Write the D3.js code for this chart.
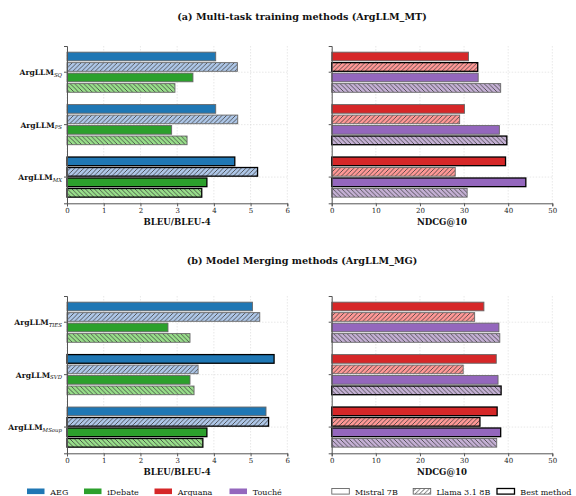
<!DOCTYPE html>
<html>
<head>
<meta charset="utf-8">
<script src="https://cdn.jsdelivr.net/npm/d3@7"></script>
<style>
  html, body { margin: 0; padding: 0; background: #fff; }
  svg { display: block; font-family: "DejaVu Serif", serif; }
</style>
</head>
<body>
<svg id="chart" width="576" height="496"></svg>
<script>
// ---- data -------------------------------------------------------------
const mtMethods = ["SQ", "PS", "MX"];
const mgMethods = ["TIES", "SVD", "MSoup"];

// BLEU / BLEU-4 (generation tasks)
const aegMistralMT      = [4.05, 4.05, 4.57];
const aegLlamaMT        = [4.64, 4.65, 5.19];
const idebateMistralMT  = [3.43, 2.85, 3.81];
const idebateLlamaMT    = [2.94, 3.27, 3.67];
const aegMistralMG      = [5.05, 5.64, 5.42];
const aegLlamaMG        = [5.25, 3.57, 5.49];
const idebateMistralMG  = [2.75, 3.35, 3.81];
const idebateLlamaMG    = [3.35, 3.46, 3.70];

// NDCG@10 (retrieval tasks)
const arguanaMistralMT  = [31.0, 30.1, 39.4];
const arguanaLlamaMT    = [33.1, 29.0, 28.0];
const toucheMistralMT   = [33.2, 38.0, 44.0];
const toucheLlamaMT     = [38.3, 39.7, 30.7];
const arguanaMistralMG  = [34.5, 37.3, 37.5];
const arguanaLlamaMG    = [32.4, 29.8, 33.6];
const toucheMistralMG   = [37.9, 37.7, 38.3];
const toucheLlamaMG     = [38.1, 38.4, 37.4];

const bleuTicks = [0, 1, 2, 3, 4, 5, 6];
const ndcgTicks = [0, 10, 20, 30, 40, 50];

const datasets = ["AEG", "iDebate", "Arguana", "Touché"];
const models = ["Mistral 7B", "Llama 3.1 8B", "Best method"];

// ---- styles -----------------------------------------------------------
const colors = {
  AEG:     { solid: "#1f77b4", light: "#aec7e8", hatch: "fwd" },
  iDebate: { solid: "#2ca02c", light: "#98df8a", hatch: "back" },
  Arguana: { solid: "#d62728", light: "#ff9896", hatch: "fwd" },
  "Touché":{ solid: "#9467bd", light: "#c5b0d5", hatch: "back" }
};

const svg = d3.select("#chart");
const defs = svg.append("defs");

function makeHatch(id, bg, dir) {
  const s = 4.5;
  const p = defs.append("pattern")
    .attr("id", id)
    .attr("patternUnits", "userSpaceOnUse")
    .attr("width", s).attr("height", s);
  p.append("rect").attr("width", s).attr("height", s).attr("fill", bg);
  const d = dir === "fwd"
    ? `M-1,1 L1,-1 M0,${s} L${s},0 M${s - 1},${s + 1} L${s + 1},${s - 1}`
    : `M-1,${s - 1} L1,${s + 1} M0,0 L${s},${s} M${s - 1},-1 L${s + 1},1`;
  p.append("path").attr("d", d)
    .attr("stroke", "#3a3a3a").attr("stroke-width", 0.8);
}
Object.entries(colors).forEach(([k, c], i) => makeHatch("h" + i, c.light, c.hatch));
makeHatch("hLegend", "#fff", "fwd");
const hatchId = name => "url(#h" + Object.keys(colors).indexOf(name) + ")";

// ---- panel drawing ----------------------------------------------------
function drawPanel(opt) {
  const g = svg.append("g");
  const x = d3.scaleLinear().domain(opt.xDomain).range(opt.xRange);
  const y = d3.scaleBand().domain(opt.categories).range(opt.yRange);
  const bw = y.bandwidth();
  const pitch = bw * 0.2;
  const barH = bw * 0.165;

  // grid
  g.append("g").selectAll("line.vx").data(opt.ticks).join("line")
    .attr("x1", d => x(d)).attr("x2", d => x(d))
    .attr("y1", opt.yRange[0]).attr("y2", opt.yRange[1])
    .attr("stroke", "#d8d8d8").attr("stroke-width", 0.6)
    .attr("stroke-dasharray", "1.5,1.5");
  g.append("g").selectAll("line.hy").data(opt.categories).join("line")
    .attr("x1", opt.xRange[0]).attr("x2", opt.xRange[1])
    .attr("y1", d => y(d) + bw / 2).attr("y2", d => y(d) + bw / 2)
    .attr("stroke", "#d8d8d8").attr("stroke-width", 0.6)
    .attr("stroke-dasharray", "1.5,1.5");

  // bars
  opt.series.forEach((s, si) => {
    const best = d3.max(s.values);
    g.append("g").selectAll("rect").data(s.values).join("rect")
      .attr("x", x(0))
      .attr("y", (d, i) => y(opt.categories[i]) + bw / 2 + (si - 1.5) * pitch - barH / 2)
      .attr("width", d => x(d) - x(0))
      .attr("height", barH)
      .attr("fill", s.llama ? hatchId(s.dataset) : colors[s.dataset].solid)
      .attr("stroke", d => d === best ? "#000" : "#666")
      .attr("stroke-width", d => d === best ? 1.3 : 0.9);
  });

  // axes
  const xAxis = g.append("g")
    .attr("transform", `translate(0,${opt.yRange[1]})`)
    .call(d3.axisBottom(x).tickValues(opt.ticks).tickFormat(d3.format("d"))
      .tickSize(3).tickPadding(2));
  xAxis.select(".domain").attr("stroke", "#555").attr("stroke-width", 1);
  xAxis.selectAll(".tick line").attr("stroke", "#555");
  xAxis.selectAll("text").attr("font-size", 7).attr("fill", "#222")
    .attr("font-family", "DejaVu Serif");

  const yAxis = g.append("g")
    .attr("transform", `translate(${opt.xRange[0]},0)`)
    .call(d3.axisLeft(y).tickSize(3).tickPadding(2).tickFormat(""));
  yAxis.select(".domain").attr("stroke", "#555").attr("stroke-width", 1);
  yAxis.selectAll(".tick line").attr("stroke", "#555");

  if (opt.showLabels) {
    yAxis.selectAll(".tick text").each(function (d) {
      const t = d3.select(this).attr("font-family", "DejaVu Serif").attr("fill", "#111");
      t.append("tspan").attr("font-size", 7.6).attr("font-weight", "bold").text("ArgLLM");
      t.append("tspan").attr("font-size", 5.4).attr("font-style", "italic")
        .attr("dy", 1.6).text(d);
    });
  }

  g.append("text")
    .attr("x", (opt.xRange[0] + opt.xRange[1]) / 2)
    .attr("y", opt.yRange[1] + 22)
    .attr("text-anchor", "middle")
    .attr("font-size", 8.6).attr("font-weight", "bold").attr("fill", "#111")
    .text(opt.xLabel);
}

const leftX = [67, 287.3], rightX = [331.7, 552.3];
const topY = [46, 203.3], botY = [296, 453.3];

const genSeries = (a, b, c, d) => [
  { dataset: "AEG", llama: false, values: a },
  { dataset: "AEG", llama: true, values: b },
  { dataset: "iDebate", llama: false, values: c },
  { dataset: "iDebate", llama: true, values: d }
];
const retSeries = (a, b, c, d) => [
  { dataset: "Arguana", llama: false, values: a },
  { dataset: "Arguana", llama: true, values: b },
  { dataset: "Touché", llama: false, values: c },
  { dataset: "Touché", llama: true, values: d }
];

drawPanel({ categories: mtMethods, xDomain: [0, 6], ticks: bleuTicks, xRange: leftX, yRange: topY,
  showLabels: true, xLabel: "BLEU/BLEU-4",
  series: genSeries(aegMistralMT, aegLlamaMT, idebateMistralMT, idebateLlamaMT) });
drawPanel({ categories: mtMethods, xDomain: [0, 50], ticks: ndcgTicks, xRange: rightX, yRange: topY,
  showLabels: false, xLabel: "NDCG@10",
  series: retSeries(arguanaMistralMT, arguanaLlamaMT, toucheMistralMT, toucheLlamaMT) });
drawPanel({ categories: mgMethods, xDomain: [0, 6], ticks: bleuTicks, xRange: leftX, yRange: botY,
  showLabels: true, xLabel: "BLEU/BLEU-4",
  series: genSeries(aegMistralMG, aegLlamaMG, idebateMistralMG, idebateLlamaMG) });
drawPanel({ categories: mgMethods, xDomain: [0, 50], ticks: ndcgTicks, xRange: rightX, yRange: botY,
  showLabels: false, xLabel: "NDCG@10",
  series: retSeries(arguanaMistralMG, arguanaLlamaMG, toucheMistralMG, toucheLlamaMG) });

// ---- titles -------------------------------------------------------------
svg.append("text").attr("x", 302).attr("y", 19.5).attr("text-anchor", "middle")
  .attr("font-size", 9.6).attr("font-weight", "bold").attr("fill", "#111")
  .text("(a) Multi-task training methods (ArgLLM_MT)");
svg.append("text").attr("x", 302).attr("y", 263.5).attr("text-anchor", "middle")
  .attr("font-size", 9.6).attr("font-weight", "bold").attr("fill", "#111")
  .text("(b) Model Merging methods (ArgLLM_MG)");

// ---- legend ---------------------------------------------------------------
const legend = svg.append("g").attr("font-size", 8).attr("fill", "#111");
const dsX = [27, 84, 154.5, 229.5];
datasets.forEach((name, i) => {
  legend.append("rect").attr("x", dsX[i]).attr("y", 488.5).attr("width", 17.5).attr("height", 5.6)
    .attr("fill", colors[name].solid);
  legend.append("text").attr("x", dsX[i] + 23.3).attr("y", 494.6).text(name);
});
const mX = [331.8, 413.2, 497];
models.forEach((name, i) => {
  legend.append("rect").attr("x", mX[i]).attr("y", 488.5).attr("width", 17.5).attr("height", 5.6)
    .attr("fill", i === 1 ? "url(#hLegend)" : "#fff")
    .attr("stroke", i === 2 ? "#000" : "#666")
    .attr("stroke-width", i === 2 ? 1.3 : 0.9);
  legend.append("text").attr("x", mX[i] + 23.3).attr("y", 494.6).text(name);
});
</script>
</body>
</html>
